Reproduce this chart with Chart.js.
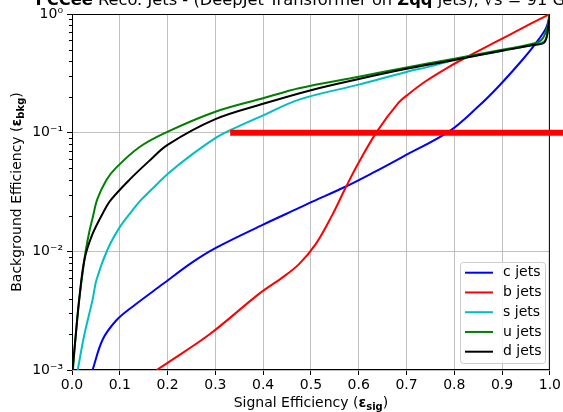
<!DOCTYPE html>
<html>
<head>
<meta charset="utf-8">
<script src="https://cdn.jsdelivr.net/npm/chart.js@4.4.0/dist/chart.umd.min.js"></script>
<style>
  body { margin: 0; background: #fff; }
  canvas { display: block; }
</style>
</head>
<body>
<canvas id="roc" width="563" height="412"></canvas>
<script>
// ROC curves: signal efficiency (x) vs background efficiency (y)
const cX = [0.043, 0.064, 0.092, 0.126, 0.19, 0.25, 0.301, 0.4, 0.475, 0.503, 0.572, 0.63, 0.69, 0.79, 0.85, 0.892, 0.94, 0.968, 0.992, 1.0];
const cY = [0.001, 0.0018, 0.0026, 0.0034, 0.0053, 0.008, 0.0107, 0.0168, 0.0232, 0.0262, 0.035, 0.046, 0.062, 0.103, 0.166, 0.244, 0.40, 0.55, 0.76, 1.0];

const bX = [0.177, 0.2, 0.288, 0.392, 0.44, 0.475, 0.51, 0.544, 0.572, 0.6, 0.638, 0.683, 0.704, 0.74, 0.788, 0.829, 0.892, 0.9125, 0.96, 1.0];
const bY = [0.001, 0.00115, 0.002, 0.0044, 0.006, 0.0078, 0.0115, 0.02, 0.034, 0.056, 0.102, 0.178, 0.211, 0.271, 0.357, 0.44, 0.596, 0.658, 0.828, 1.0];

const sX = [0.012, 0.026, 0.043, 0.051, 0.074, 0.1, 0.126, 0.144, 0.18, 0.203, 0.25, 0.3, 0.329, 0.4, 0.475, 0.6, 0.7, 0.75, 0.8, 0.9, 0.968, 0.99, 0.997, 1.0];
const sY = [0.001, 0.002, 0.0039, 0.0057, 0.0103, 0.016, 0.022, 0.027, 0.0375, 0.046, 0.065, 0.09, 0.104, 0.14, 0.19, 0.254, 0.325, 0.362, 0.41, 0.49, 0.555, 0.6, 0.8, 1.0];

const uX = [0.002, 0.008, 0.015, 0.022, 0.029, 0.036, 0.043, 0.053, 0.072, 0.092, 0.14, 0.196, 0.3, 0.4, 0.475, 0.6, 0.7, 0.8, 0.9, 0.968, 0.985, 0.996, 1.0];
const uY = [0.001, 0.002, 0.0039, 0.0065, 0.0103, 0.0145, 0.019, 0.0275, 0.040, 0.0505, 0.075, 0.1, 0.15, 0.195, 0.237, 0.296, 0.355, 0.42, 0.50, 0.567, 0.624, 0.81, 1.0];

const dX = [0.001, 0.008, 0.015, 0.026, 0.043, 0.066, 0.081, 0.12, 0.16, 0.2, 0.3, 0.4, 0.5, 0.6, 0.7, 0.8, 0.9, 0.968, 0.989, 0.997, 1.0];
const dY = [0.001, 0.002, 0.0039, 0.0085, 0.014, 0.0215, 0.027, 0.040, 0.057, 0.079, 0.13, 0.175, 0.228, 0.283, 0.345, 0.41, 0.49, 0.55, 0.58, 0.78, 1.0];

// thick red cut line drawn over the plot
const cutX = [0.331, 1.03];
const cutY = [0.1, 0.1];

const labels = ['c jets', 'b jets', 's jets', 'u jets', 'd jets'];
const colors = ['#0000ff', '#ff0000', '#00bfbf', '#008000', '#000000'];
const yTicks = [0.001, 0.01, 0.1, 1];
const yTickLabels = ['10⁻³', '10⁻²', '10⁻¹', '10⁰'];

const FONT = '"DejaVu Sans", sans-serif';

function pts(xs, ys) {
  return xs.map((x, i) => ({ x: x, y: ys[i] }));
}

// text made of parts (bold / subscript)
function richWidth(ctx, parts) {
  let w = 0;
  for (const p of parts) {
    ctx.font = (p.bold ? 'bold ' : '') + p.size + 'px ' + FONT;
    w += ctx.measureText(p.t).width;
  }
  return w;
}
function drawRich(ctx, parts, x, y) {
  for (const p of parts) {
    ctx.font = (p.bold ? 'bold ' : '') + p.size + 'px ' + FONT;
    ctx.fillText(p.t, x, y + (p.dy || 0));
    x += ctx.measureText(p.t).width;
  }
}

const decorations = {
  id: 'decorations',
  beforeDatasetsDraw(chart) {
    const ctx = chart.ctx;
    const a = chart.chartArea;
    const ys = chart.scales.y;
    ctx.save();
    ctx.strokeStyle = '#000';
    ctx.lineWidth = 1;
    // minor ticks on the log axis
    for (let e = -3; e < 0; e++) {
      for (let m = 2; m <= 9; m++) {
        const py = Math.round(ys.getPixelForValue(m * Math.pow(10, e))) + 0.5;
        ctx.beginPath();
        ctx.moveTo(a.left - 3, py);
        ctx.lineTo(a.left, py);
        ctx.stroke();
      }
    }
    // frame
    ctx.strokeRect(a.left + 0.5, a.top + 0.5, a.right - a.left - 1, a.bottom - a.top - 1);
    ctx.restore();
  },
  afterDraw(chart) {
    const ctx = chart.ctx;
    const a = chart.chartArea;
    const cx = (a.left + a.right) / 2;
    ctx.save();
    ctx.fillStyle = '#000';
    ctx.textBaseline = 'alphabetic';
    ctx.textAlign = 'left';

    // title (cut off at the top of the image)
    const ts = 16.3;
    const title = [
      { t: 'FCCee', bold: true, size: ts },
      { t: ' Reco. Jets - (DeepJet Transformer on ', size: ts },
      { t: 'Zqq', bold: true, size: ts },
      { t: ' jets), √s = 91 GeV', size: ts }
    ];
    drawRich(ctx, title, cx - richWidth(ctx, title) / 2, 5);

    // x axis title
    const xt = [
      { t: 'Signal Efficiency (', size: 14 },
      { t: 'ε', bold: true, size: 14 },
      { t: 'sig', bold: true, size: 10, dy: 3 },
      { t: ')', size: 14 }
    ];
    drawRich(ctx, xt, cx - richWidth(ctx, xt) / 2, 407);

    // y axis title
    const yt = [
      { t: 'Background Efficiency (', size: 14 },
      { t: 'ε', bold: true, size: 14 },
      { t: 'bkg', bold: true, size: 10, dy: 3 },
      { t: ')', size: 14 }
    ];
    ctx.translate(21, (a.top + a.bottom) / 2);
    ctx.rotate(-Math.PI / 2);
    drawRich(ctx, yt, -richWidth(ctx, yt) / 2, 0);
    ctx.setTransform(1, 0, 0, 1, 0, 0);

    // legend box
    const lx = 460, ly = 262, lw = 85, lh = 101;
    ctx.beginPath();
    ctx.roundRect(lx + 0.5, ly + 0.5, lw, lh, 3);
    ctx.fillStyle = 'rgba(255,255,255,0.8)';
    ctx.fill();
    ctx.strokeStyle = '#cccccc';
    ctx.lineWidth = 1;
    ctx.stroke();
    ctx.font = '14px ' + FONT;
    ctx.textBaseline = 'middle';
    labels.forEach((name, i) => {
      const ry = 272.7 + i * 19.75;
      ctx.strokeStyle = colors[i];
      ctx.lineWidth = 2;
      ctx.beginPath();
      ctx.moveTo(465, ry);
      ctx.lineTo(493, ry);
      ctx.stroke();
      ctx.fillStyle = '#000';
      ctx.fillText(name, 503, ry);
    });
    ctx.restore();
  }
};

const curves = [[cX, cY], [bX, bY], [sX, sY], [uX, uY], [dX, dY]];
const datasets = curves.map((c, i) => ({
  label: labels[i],
  data: pts(c[0], c[1]),
  borderColor: colors[i],
  borderWidth: 2,
  pointRadius: 0,
  tension: 0.35,
  fill: false,
  order: 5 - i
}));
datasets.push({
  label: 'cut',
  data: pts(cutX, cutY),
  borderColor: '#ff0000',
  borderWidth: 6,
  borderCapStyle: 'butt',
  pointRadius: 0,
  clip: false,
  order: 0
});

new Chart(document.getElementById('roc'), {
  type: 'line',
  data: { datasets: datasets },
  options: {
    responsive: false,
    animation: false,
    layout: { padding: { top: 14, right: 11, left: 0, bottom: 0 } },
    plugins: { legend: { display: false }, tooltip: { enabled: false } },
    scales: {
      x: {
        type: 'linear',
        min: 0,
        max: 1,
        ticks: {
          stepSize: 0.1,
          color: '#000',
          font: { family: FONT, size: 14 },
          padding: 2,
          maxRotation: 0,
          callback: v => v.toFixed(1)
        },
        grid: { color: '#b0b0b0', lineWidth: 0.8, tickColor: '#000', tickLength: 5, tickWidth: 1 },
        border: { display: false },
        afterFit: s => { s.height = 42; }
      },
      y: {
        type: 'logarithmic',
        min: 0.001,
        max: 1,
        afterBuildTicks: s => { s.ticks = yTicks.map(v => ({ value: v })); },
        ticks: {
          color: '#000',
          font: { family: FONT, size: 14 },
          padding: 4,
          autoSkip: false,
          callback: v => yTickLabels[yTicks.indexOf(v)]
        },
        grid: { color: '#b0b0b0', lineWidth: 0.8, tickColor: '#000', tickLength: 5, tickWidth: 1 },
        border: { display: false },
        afterFit: s => { s.width = 72; }
      }
    }
  },
  plugins: [decorations]
});
</script>
</body>
</html>
